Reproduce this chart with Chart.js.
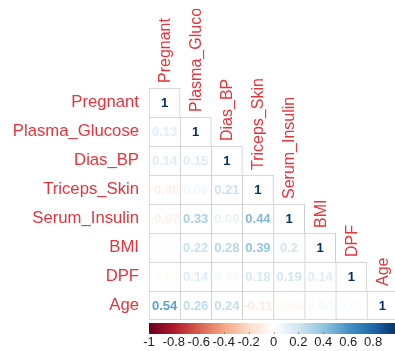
<!DOCTYPE html>
<html>
<head>
<meta charset="utf-8">
<script src="https://cdn.jsdelivr.net/npm/chart.js@4.4.1/dist/chart.umd.min.js"></script>
<style>
  html, body { margin: 0; padding: 0; overflow: hidden; background: #ffffff; }
  #wrap { width: 400px; height: 351px; position: relative; }
</style>
</head>
<body>
<div id="wrap"><canvas id="corr"></canvas></div>
<script>
// Variables of the correlation matrix (row order = column order)
const variables = ['Pregnant', 'Plasma_Glucose', 'Dias_BP', 'Triceps_Skin', 'Serum_Insulin', 'BMI', 'DPF', 'Age'];

// Lower-triangle correlation coefficients, one array per row
const corrPregnant     = [1];
const corrPlasmaGluc   = [0.13, 1];
const corrDiasBP       = [0.14, 0.15, 1];
const corrTricepsSkin  = [-0.08, 0.06, 0.21, 1];
const corrSerumInsulin = [-0.07, 0.33, 0.09, 0.44, 1];
const corrBMI          = [0.02, 0.22, 0.28, 0.39, 0.2, 1];
const corrDPF          = [-0.03, 0.14, 0.04, 0.18, 0.19, 0.14, 1];
const corrAge          = [0.54, 0.26, 0.24, -0.11, -0.04, 0.04, 0.03, 1];

const corrRows = [corrPregnant, corrPlasmaGluc, corrDiasBP, corrTricepsSkin,
                  corrSerumInsulin, corrBMI, corrDPF, corrAge];

// Colour legend range and tick values
const legendMin = -1;
const legendMax = 1;
const legendStep = 0.2;

// Diverging red-white-blue palette (from -1 to +1)
const palette = ['#67001F', '#B2182B', '#D6604D', '#F4A582', '#FDDBC7', '#FFFFFF',
                 '#D1E5F0', '#92C5DE', '#4393C3', '#2166AC', '#053061'];

const FONT = '"Liberation Sans", Arial, Helvetica, sans-serif';
const LABEL_RED = '#e8333b';
const GRID_GREY = '#cccccc';

function hexToRgb(h) {
  const n = parseInt(h.slice(1), 16);
  return [(n >> 16) & 255, (n >> 8) & 255, n & 255];
}
function corrColor(v) {
  const t = (Math.max(-1, Math.min(1, v)) + 1) / 2 * (palette.length - 1);
  const i = Math.min(Math.floor(t), palette.length - 2);
  const f = t - i;
  const a = hexToRgb(palette[i]), b = hexToRgb(palette[i + 1]);
  const c = a.map((x, k) => Math.round(x + (b[k] - x) * f));
  return `rgb(${c[0]},${c[1]},${c[2]})`;
}

// One floating-bar dataset per matrix row; each bar is a cell of the triangle
const datasets = corrRows.map((row, i) => ({
  label: variables[i],
  corr: row,
  data: variables.map((_, j) => (j < row.length ? [i + 0.5, i + 1.5] : null)),
  grouped: false,
  barPercentage: 1,
  categoryPercentage: 1,
  backgroundColor: '#ffffff',
  borderColor: GRID_GREY,
  borderSkipped: false,
  borderWidth: (ctx) => ({
    top: 1,
    left: 1,
    right: ctx.dataIndex === i ? 1 : 0,
    bottom: i === corrRows.length - 1 ? 1 : 0
  })
}));

// Draws the coefficients inside the cells, the diagonal variable names
// and the colour legend bar
const cellText = {
  id: 'cellText',
  afterDatasetsDraw(chart) {
    const ctx = chart.ctx;
    ctx.save();
    ctx.font = `bold 13px ${FONT}`;
    ctx.textAlign = 'center';
    ctx.textBaseline = 'middle';
    chart.data.datasets.forEach((ds, i) => {
      const meta = chart.getDatasetMeta(i);
      ds.corr.forEach((v, j) => {
        const el = meta.data[j];
        if (!el) return;
        const cy = (el.y + el.base) / 2;
        ctx.fillStyle = corrColor(v);
        ctx.fillText(String(v), el.x, cy + 0.5);
      });
    });
    ctx.restore();

    // rotated names above the diagonal cells
    ctx.save();
    ctx.beginPath();
    ctx.rect(0, 9, chart.width, chart.height);
    ctx.clip();
    ctx.font = `16px ${FONT}`;
    ctx.fillStyle = LABEL_RED;
    ctx.textAlign = 'left';
    ctx.textBaseline = 'middle';
    variables.forEach((name, i) => {
      const el = chart.getDatasetMeta(i).data[i];
      const top = Math.min(el.y, el.base);
      ctx.save();
      ctx.translate(el.x + 1, top - 5);
      ctx.rotate(-Math.PI / 2);
      ctx.fillText(name, 0, 0);
      ctx.restore();
    });
    ctx.restore();
  },
  afterDraw(chart) {
    const s = chart.scales.cb;
    const ctx = chart.ctx;
    const x0 = s.getPixelForValue(legendMin);
    const x1 = s.getPixelForValue(legendMax);
    const y0 = s.top + 3, h = 11;
    const g = ctx.createLinearGradient(x0, 0, x1, 0);
    palette.forEach((c, k) => g.addColorStop(k / (palette.length - 1), c));
    ctx.save();
    ctx.fillStyle = g;
    ctx.fillRect(x0, y0, x1 - x0, h);
    ctx.strokeStyle = 'rgba(90,90,90,0.55)';
    ctx.lineWidth = 1;
    s.ticks.forEach((t) => {
      const x = Math.round(s.getPixelForValue(t.value)) + 0.5;
      ctx.beginPath();
      ctx.moveTo(x, y0 + h - 2);
      ctx.lineTo(x, y0 + h);
      ctx.stroke();
    });
    ctx.restore();
  }
};

new Chart(document.getElementById('corr'), {
  type: 'bar',
  data: { labels: variables, datasets },
  options: {
    responsive: true,
    maintainAspectRatio: false,
    animation: false,
    events: [],
    layout: { padding: { top: 88, right: 2, left: 0, bottom: 0 } },
    plugins: { legend: { display: false }, tooltip: { enabled: false } },
    scales: {
      x: { type: 'category', display: false },
      y: {
        type: 'linear',
        reverse: true,
        min: 0.5,
        max: 8.5,
        grid: { display: false, drawTicks: false },
        border: { display: false },
        afterBuildTicks: (scale) => { scale.ticks = variables.map((_, i) => ({ value: i + 1 })); },
        afterFit: (scale) => { scale.width = 149; },
        ticks: {
          padding: 10,
          color: LABEL_RED,
          font: { family: FONT, size: 16.7 },
          callback: (v) => variables[v - 1] || ''
        }
      },
      cb: {
        type: 'linear',
        position: 'bottom',
        offset: false,
        min: legendMin,
        max: legendMax,
        grid: { display: false, drawTicks: false, offset: false },
        border: { display: false },
        afterBuildTicks: (scale) => {
          const t = [];
          for (let k = 0; k <= Math.round((legendMax - legendMin) / legendStep); k++) {
            t.push({ value: Math.round((legendMin + k * legendStep) * 10) / 10 });
          }
          scale.ticks = t;
        },
        afterFit: (scale) => { scale.height = 31; scale.paddingLeft = 0; scale.paddingRight = 0; },
        ticks: {
          autoSkip: false,
          maxRotation: 0,
          padding: 15,
          color: '#222222',
          font: { family: FONT, size: 13 },
          callback: (v) => String(Math.round(v * 10) / 10)
        }
      }
    }
  },
  plugins: [cellText]
});
</script>
</body>
</html>
